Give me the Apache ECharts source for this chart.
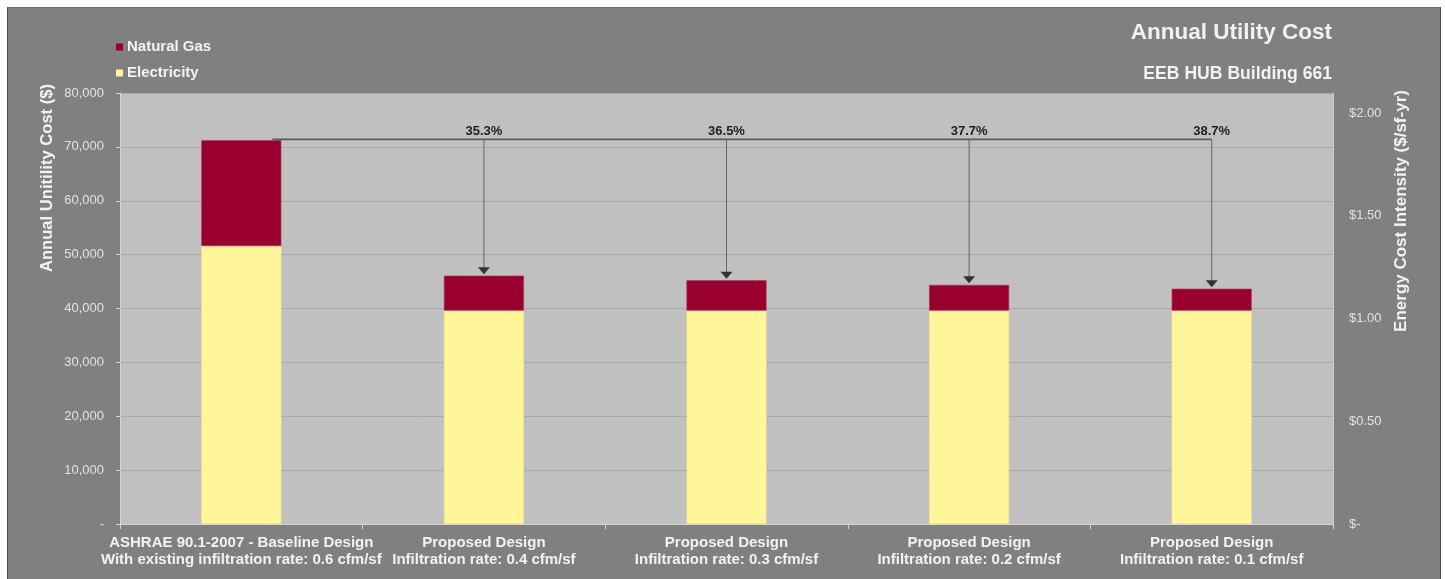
<!DOCTYPE html>
<html>
<head>
<meta charset="utf-8">
<title>Annual Utility Cost</title>
<script src="https://cdn.jsdelivr.net/npm/echarts@6/dist/echarts.min.js"></script>
<style>
  html, body { margin: 0; padding: 0; background: #ffffff; }
  #wrap { position: relative; width: 1445px; height: 579px; overflow: hidden; }
  #panel { position: absolute; left: 7px; top: 7px; width: 1432px; height: 580px;
           background: #808080; border-left: 1px solid #4a4a4a; border-right: 1px solid #4a4a4a;
           border-top: 1px solid #6a6a6a; }
  #chart { position: absolute; left: 0; top: 0; width: 1445px; height: 579px; }
</style>
</head>
<body>
<div id="wrap">
  <div id="panel"></div>
  <div id="chart"></div>
</div>
<script>
// Design cases (two-line axis labels)
const caseNames = [
  'ASHRAE 90.1-2007 - Baseline Design',
  'Proposed Design',
  'Proposed Design',
  'Proposed Design',
  'Proposed Design'
];
const caseDetails = [
  'With existing infiltration rate: 0.6 cfm/sf',
  'Infiltration rate: 0.4 cfm/sf',
  'Infiltration rate: 0.3 cfm/sf',
  'Infiltration rate: 0.2 cfm/sf',
  'Infiltration rate: 0.1 cfm/sf'
];

// Annual cost by fuel ($)
const electricity = [51600, 39600, 39600, 39600, 39600];
const naturalGas  = [19650, 6500, 5650, 4790, 4080];

// Axis ranges
const costMax = 80000;
const costStep = 10000;
const eciMax = 2.098;   // $/sf-yr at the top of the plot
const eciStep = 0.5;

const FONT = '"Liberation Sans", Arial, sans-serif';
const TEXT = '#f2f2f2';
const TICK = '#e2e2e2';

const categories = caseNames.map((n, i) => n + '\n' + caseDetails[i]);
const totals = electricity.map((e, i) => e + naturalGas[i]);
const baseTotal = totals[0];

// Savings brackets: one item per proposed case
const savingsData = totals.slice(1).map((t, k) => [k + 1, t, baseTotal]);

function savingsLabel(total) {
  return ((1 - total / baseTotal) * 100).toFixed(1) + '%';
}

function renderSavings(params, api) {
  const cat = api.value(0);
  const total = api.value(1);
  const base = api.value(2);
  const band = api.size([1, 0])[0];
  const top = api.coord([cat, base]);
  const bar = api.coord([cat, total]);
  const x = top[0];
  const y0 = top[1] - 0.8;
  const yBar = bar[1];
  // horizontal run starts inside the baseline bar, then continues case to case
  const prevX = params.dataIndex === 0
    ? api.coord([0, base])[0] + band * 0.128
    : api.coord([cat - 1, base])[0];
  return {
    type: 'group',
    children: [
      { type: 'line', shape: { x1: prevX, y1: y0, x2: x, y2: y0 },
        style: { stroke: '#5a5a5a', lineWidth: 1.6 } },
      { type: 'line', shape: { x1: x, y1: y0, x2: x, y2: yBar - 6 },
        style: { stroke: '#666666', lineWidth: 1 } },
      { type: 'polygon', shape: { points: [[x - 6, yBar - 8.5], [x + 6, yBar - 8.5], [x, yBar - 1.5]] },
        style: { fill: '#333333' } },
      { type: 'text', x: x, y: y0 - 8,
        style: { text: savingsLabel(total), fill: '#1e1e1e', font: 'bold 13px ' + FONT,
                 align: 'center', verticalAlign: 'middle' } }
    ]
  };
}

const chart = echarts.init(document.getElementById('chart'), null, { renderer: 'canvas' });

chart.setOption({
  backgroundColor: 'transparent',
  animation: false,
  textStyle: { fontFamily: FONT },
  title: [
    { text: 'Annual Utility Cost', right: 113, top: 21, padding: 0,
      textStyle: { color: TEXT, fontSize: 22.5, fontWeight: 'bold', fontFamily: FONT } },
    { text: 'EEB HUB Building 661', right: 113, top: 65, padding: 0,
      textStyle: { color: TEXT, fontSize: 17.6, fontWeight: 'bold', fontFamily: FONT } }
  ],
  legend: {
    data: ['Natural Gas', 'Electricity'],
    orient: 'vertical',
    left: 116, top: 39, padding: 0,
    itemWidth: 7, itemHeight: 7, itemGap: 10,
    icon: 'rect',
    itemStyle: { borderWidth: 0 },
    textStyle: { color: TEXT, fontSize: 15, fontWeight: 'bold', lineHeight: 16, fontFamily: FONT, padding: [0, 0, 0, -1] }
  },
  grid: {
    left: 120, right: 112, top: 93, bottom: 55,
    show: true, backgroundColor: '#c0c0c0', borderWidth: 0
  },
  xAxis: {
    type: 'category',
    data: categories,
    axisLine: { show: true, lineStyle: { color: '#d4d4d4', width: 1 } },
    axisTick: { show: true, length: 5, lineStyle: { color: '#d4d4d4' } },
    axisLabel: {
      color: TEXT, fontSize: 15, fontWeight: 'bold', lineHeight: 17.5, margin: 10,
      fontFamily: FONT, interval: 0
    }
  },
  yAxis: [
    {
      type: 'value', min: 0, max: costMax, interval: costStep,
      axisLine: { show: true, lineStyle: { color: '#d4d4d4', width: 1 } },
      axisTick: { show: true, length: 4, lineStyle: { color: '#d4d4d4' } },
      splitLine: { show: true, lineStyle: { color: '#a9a9a9', width: 1 } },
      axisLabel: {
        color: TICK, fontSize: 13, margin: 16, fontFamily: FONT,
        formatter: v => v === 0 ? '-' : v.toLocaleString('en-US')
      }
    },
    {
      type: 'value', min: 0, max: eciMax, interval: eciStep, position: 'right',
      axisLine: { show: true, lineStyle: { color: '#cfcfcf', width: 1 } },
      axisTick: { show: false },
      splitLine: { show: false },
      axisLabel: {
        color: TICK, fontSize: 13, margin: 16, fontFamily: FONT, showMaxLabel: false,
        formatter: v => v === 0 ? '$-' : '$' + v.toFixed(2)
      }
    }
  ],
  graphic: [
    { type: 'text', x: 47, y: 178, rotation: Math.PI / 2,
      style: { text: 'Annual Unitility Cost ($)', fill: TEXT, font: 'bold 16.6px ' + FONT,
               align: 'center', verticalAlign: 'middle' } },
    { type: 'text', x: 1401, y: 211, rotation: Math.PI / 2,
      style: { text: 'Energy Cost Intensity ($/sf-yr)', fill: TEXT, font: 'bold 17px ' + FONT,
               align: 'center', verticalAlign: 'middle' } }
  ],
  series: [
    {
      name: 'Electricity', type: 'bar', stack: 'cost', barWidth: '33%',
      data: electricity,
      itemStyle: { color: '#fff599', borderColor: '#f1e48c', borderWidth: 0.6 }
    },
    {
      name: 'Natural Gas', type: 'bar', stack: 'cost', barWidth: '33%',
      data: naturalGas,
      itemStyle: { color: '#990030', borderColor: '#b23a5a', borderWidth: 0.6 }
    },
    {
      name: 'Savings', type: 'custom', renderItem: renderSavings,
      data: savingsData, z: 5, silent: true
    }
  ]
});
</script>
</body>
</html>
